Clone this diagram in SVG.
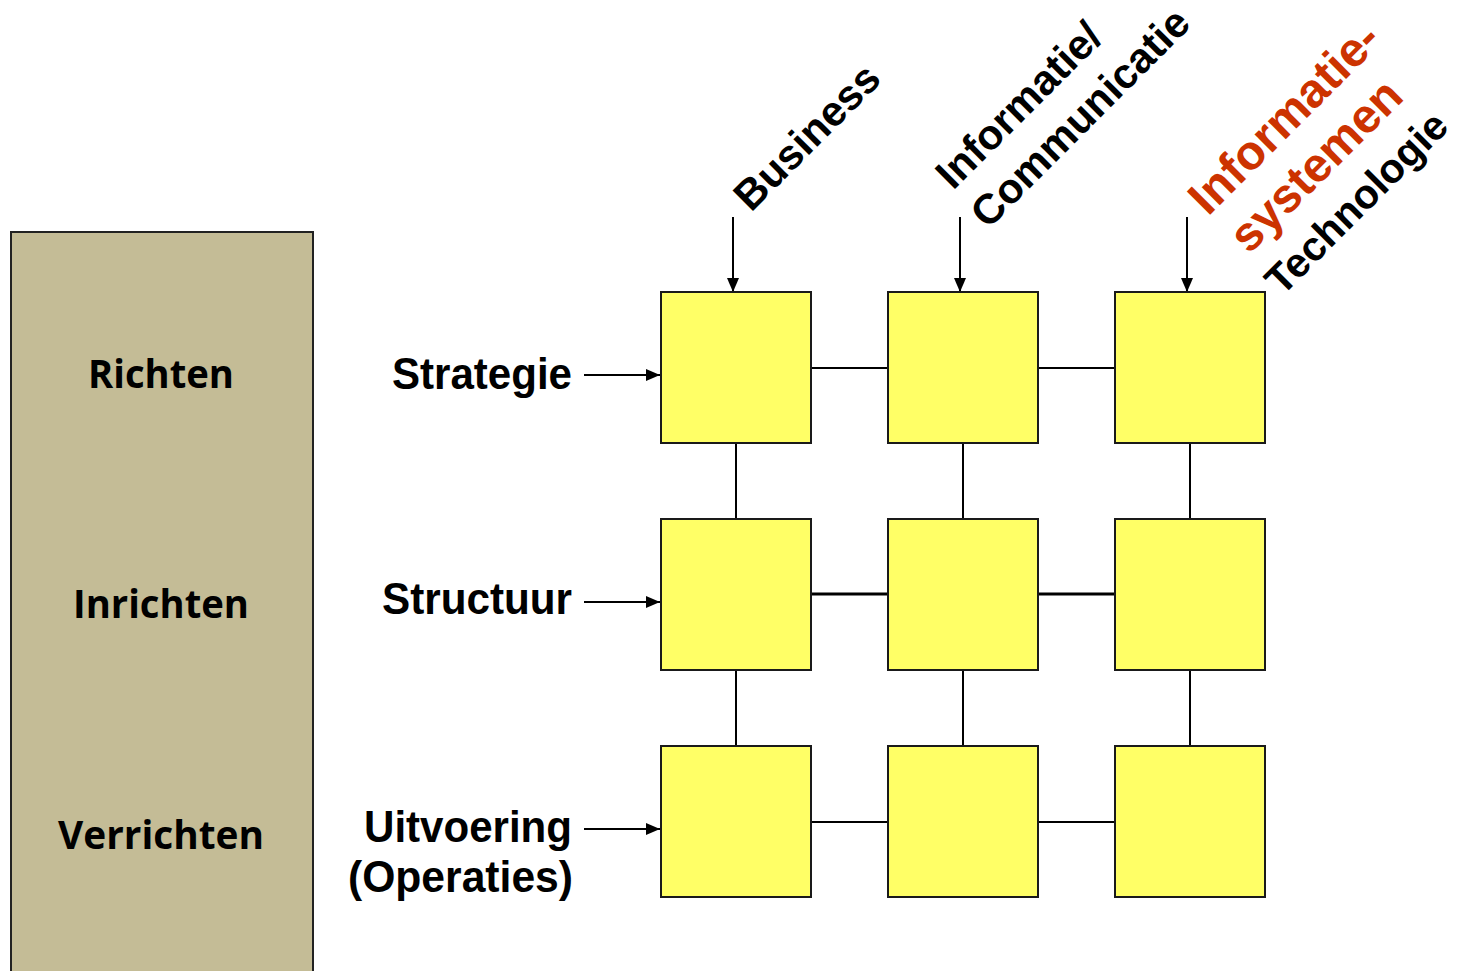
<svg xmlns="http://www.w3.org/2000/svg" width="1461" height="971" viewBox="0 0 1461 971">
<style>
.cell{fill:#FFFF66;stroke:#1a1a1a;stroke-width:2}
.lbl{font-family:"Liberation Sans",Arial,sans-serif;font-weight:bold;fill:#000}
.side{font-family:"Open Sans","Liberation Sans",sans-serif;font-weight:bold;fill:#000;font-size:39px;text-anchor:middle}
.row{font-size:44px;text-anchor:end}
.col{font-size:42px}
.red{fill:#CC3300;font-size:48px}
.link{stroke:#000;stroke-width:2;fill:none}
.thick{stroke-width:3}
.arr{stroke:#000;stroke-width:2;fill:none;marker-end:url(#ah)}
</style>
<defs>
<marker id="ah" viewBox="0 0 14 12" refX="14" refY="6" markerWidth="14" markerHeight="12" markerUnits="userSpaceOnUse" orient="auto">
<path d="M0,0 L14,6 L0,12 Z" fill="#000"/>
</marker>
</defs>
<rect width="1461" height="971" fill="#fff"/>
<g id="phases">
<rect x="11" y="232" width="302" height="760" fill="#C4BC96" stroke="#222" stroke-width="2"/>
<text class="side" x="161" y="388" textLength="146" lengthAdjust="spacingAndGlyphs">Richten</text>
<text class="side" x="161" y="618" textLength="176" lengthAdjust="spacingAndGlyphs">Inrichten</text>
<text class="side" x="161" y="849" textLength="206" lengthAdjust="spacingAndGlyphs">Verrichten</text>
</g>
<g id="connectors">
<line class="link" x1="811" y1="368" x2="888" y2="368"/>
<line class="link" x1="1038" y1="368" x2="1115" y2="368"/>
<line class="link thick" x1="811" y1="594" x2="888" y2="594"/>
<line class="link thick" x1="1038" y1="594" x2="1115" y2="594"/>
<line class="link" x1="811" y1="822" x2="888" y2="822"/>
<line class="link" x1="1038" y1="822" x2="1115" y2="822"/>
<line class="link" x1="736" y1="443" x2="736" y2="519"/>
<line class="link" x1="736" y1="670" x2="736" y2="746"/>
<line class="link" x1="963" y1="443" x2="963" y2="519"/>
<line class="link" x1="963" y1="670" x2="963" y2="746"/>
<line class="link" x1="1190" y1="443" x2="1190" y2="519"/>
<line class="link" x1="1190" y1="670" x2="1190" y2="746"/>
<line class="arr" x1="584" y1="375" x2="660" y2="375"/>
<line class="arr" x1="584" y1="602" x2="660" y2="602"/>
<line class="arr" x1="584" y1="829" x2="660" y2="829"/>
<line class="arr" x1="733" y1="217" x2="733" y2="292"/>
<line class="arr" x1="960" y1="217" x2="960" y2="292"/>
<line class="arr" x1="1187" y1="217" x2="1187" y2="292"/>
</g>
<g id="cell-1-1"><rect class="cell" x="661" y="292" width="150" height="151"/></g>
<g id="cell-1-2"><rect class="cell" x="888" y="292" width="150" height="151"/></g>
<g id="cell-1-3"><rect class="cell" x="1115" y="292" width="150" height="151"/></g>
<g id="cell-2-1"><rect class="cell" x="661" y="519" width="150" height="151"/></g>
<g id="cell-2-2"><rect class="cell" x="888" y="519" width="150" height="151"/></g>
<g id="cell-2-3"><rect class="cell" x="1115" y="519" width="150" height="151"/></g>
<g id="cell-3-1"><rect class="cell" x="661" y="746" width="150" height="151"/></g>
<g id="cell-3-2"><rect class="cell" x="888" y="746" width="150" height="151"/></g>
<g id="cell-3-3"><rect class="cell" x="1115" y="746" width="150" height="151"/></g>
<g id="row-labels">
<text class="lbl row" x="572" y="389" textLength="180" lengthAdjust="spacingAndGlyphs">Strategie</text>
<text class="lbl row" x="572" y="614" textLength="190" lengthAdjust="spacingAndGlyphs">Structuur</text>
<text class="lbl row" x="572" y="842" textLength="208" lengthAdjust="spacingAndGlyphs">Uitvoering</text>
<text class="lbl row" x="573" y="892" textLength="225" lengthAdjust="spacingAndGlyphs">(Operaties)</text>
</g>
<g id="column-labels">
<text class="lbl col" transform="translate(751,213) rotate(-45)">Business</text>
<text class="lbl col" transform="translate(953,191) rotate(-45)">Informatie/</text>
<text class="lbl col" transform="translate(988,230) rotate(-45)">Communicatie</text>
<text class="lbl red" transform="translate(1208,217) rotate(-45)">Informatie-</text>
<text class="lbl red" transform="translate(1249,255) rotate(-45)">systemen</text>
<text class="lbl col" transform="translate(1282,297) rotate(-45)" style="font-size:41px">Technologie</text>
</g>
</svg>
